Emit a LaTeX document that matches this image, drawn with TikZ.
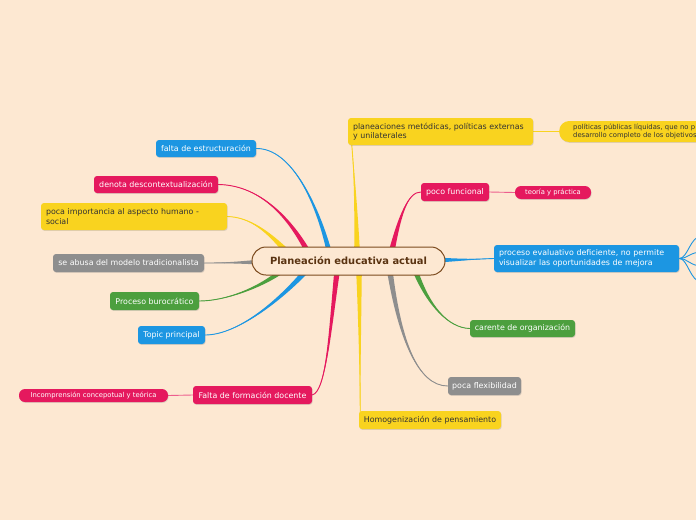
\documentclass[tikz,border=0pt]{standalone}
\usepackage{fontspec}
\setmainfont{DejaVu Sans}
\usetikzlibrary{calc,shadows}
\definecolor{bg}{HTML}{FDE8D2}
\definecolor{mblue}{HTML}{1C96E2}
\definecolor{mpink}{HTML}{E5195E}
\definecolor{myellow}{HTML}{F9D31F}
\definecolor{mgray}{HTML}{8E8E8E}
\definecolor{mgreen}{HTML}{4C9F3E}
\definecolor{brownb}{HTML}{7B4A1E}
\definecolor{brownt}{HTML}{5A3311}
\definecolor{darktext}{HTML}{333333}
\pgfdeclarelayer{back}
\pgfsetlayers{back,main}
\newcommand\branch[6]{%
 \fill[#1] ($(#2)+(#6)$) .. controls ($(#3)+0.4*(#6)$) and (#4) .. (#5) .. controls (#4) and ($(#3)-0.4*(#6)$) .. ($(#2)-(#6)$) -- cycle;
 \draw[#1,line width=0.9pt] (#2) .. controls (#3) and (#4) .. (#5);}
\tikzset{
 topic/.style={rounded corners=3pt, inner sep=0pt, font=\fontsize{7.9}{9.5}\selectfont,
   drop shadow={shadow xshift=0.6pt, shadow yshift=-0.9pt, opacity=0.25}},
 tb/.style={topic, fill=mblue, text=white},
 tp/.style={topic, fill=mpink, text=white},
 ty/.style={topic, fill=myellow, text=darktext},
 tg/.style={topic, fill=mgreen, text=white},
 tgr/.style={topic, fill=mgray, text=white},
 pill/.style={rounded corners=6pt, inner sep=0pt, font=\fontsize{6.8}{8}\selectfont,
   drop shadow={shadow xshift=0.6pt, shadow yshift=-0.9pt, opacity=0.25}},
 sub/.style={line width=0.9pt},
}
\begin{document}
\begin{tikzpicture}[x=1pt,y=-1pt]
\useasboundingbox (0,0) rectangle (696,520);
\clip (0,0) rectangle (696,520);
% center
\node[draw=brownb, line width=1pt, fill=bg, rounded corners=14pt, minimum width=193pt, minimum height=28pt,
  font=\fontsize{9.9}{12}\selectfont\bfseries, text=brownt] (c) at (348.5,261) {Planeación educativa actual};
% left nodes
\node[tb, minimum width=100pt, minimum height=17pt] (falta) at (206,148.5) {falta de estructuración};
\node[tp, minimum width=124pt, minimum height=17pt] (denota) at (156,184.5) {denota descontextualización};
\node[ty, minimum width=186pt, minimum height=27pt, text width=176pt, inner xsep=5pt, align=left] (poca) at (134,216.5) {poca importancia al aspecto humano -\\social};
\node[tgr, minimum width=151pt, minimum height=18pt] (abusa) at (128.5,263) {se abusa del modelo tradicionalista};
\node[tg, minimum width=89pt, minimum height=18pt] (buro) at (154.5,301) {Proceso burocrático};
\node[tb, minimum width=67pt, minimum height=18pt] (topicp) at (171.5,335) {Topic principal};
\node[tp, minimum width=119pt, minimum height=18pt] (formacion) at (252.5,395) {Falta de formación docente};
\node[pill, fill=mpink, text=white, minimum width=149pt, minimum height=13pt] (incomp) at (93.5,395.5) {Incomprensión concepotual y teórica};
% right nodes
\node[ty, minimum width=185pt, minimum height=27pt, text width=175pt, inner xsep=5pt, align=left] (plan) at (440.5,131.5) {planeaciones metódicas, políticas externas\\y unilaterales};
\node[pill, fill=myellow, text=darktext, rounded corners=10pt, anchor=west, minimum height=21pt, text width=150pt, inner xsep=14pt, align=left] (politicas) at (559,131.5) {políticas públicas líquidas, que no p\\desarrollo completo de los objetivos};
\node[tp, minimum width=68pt, minimum height=18pt] (poco) at (455,192) {poco funcional};
\node[pill, fill=mpink, text=white, minimum width=76pt, minimum height=13pt] (teoria) at (553,192.5) {teoría y práctica};
\node[tb, minimum width=185pt, minimum height=27pt, text width=175pt, inner xsep=5pt, align=left] (proceso) at (586.5,258.5) {proceso evaluativo deficiente, no permite\\visualizar las oportunidades de mejora};
\node[tg, minimum width=105pt, minimum height=17pt] (carente) at (522.5,328.5) {carente de organización};
\node[tgr, minimum width=73pt, minimum height=18pt] (flex) at (484.5,386) {poca flexibilidad};
\node[ty, minimum width=142pt, minimum height=18pt] (homog) at (430,420) {Homogenización de pensamiento};
% free ends of the cut-off branches
\coordinate (e1) at (702,236);
\coordinate (e2) at (702,252);
\coordinate (e3) at (702,266);
\coordinate (e4) at (702,282);
\begin{pgfonlayer}{back}
\fill[bg] (0,0) rectangle (696,520);
\coordinate (s1) at ($(c)+(-18.5,-6)$);
\coordinate (s2) at ($(c)+(-40.5,-9)$);
\coordinate (s3) at ($(c)+(-63.5,-11)$);
\coordinate (s4) at ($(c)+(-86.5,1)$);
\coordinate (s5) at ($(c)+(-65.5,9)$);
\coordinate (s6) at ($(c)+(-43.5,11)$);
\coordinate (s7) at ($(c)+(-11.5,11)$);
\coordinate (s8) at ($(c)+(10.5,11)$);
\coordinate (s9) at ($(c)+(8.5,-11)$);
\coordinate (s10) at ($(c)+(43.5,-11)$);
\coordinate (s11) at ($(c)+(91.5,-1)$);
\coordinate (s12) at ($(c)+(66.5,9)$);
\coordinate (s13) at ($(c)+(41.5,11)$);
\branch{mblue}{s1}{318,205}{292,148}{falta.east}{2.8,0.5}
\branch{mpink}{s2}{288,215}{258,185}{denota.east}{2.4,-1.3}
\branch{myellow}{s3}{268,232}{250,217}{poca.east}{2,-2}
\branch{mgray}{s4}{240,262.5}{220,263}{abusa.east}{0,2.6}
\branch{mgreen}{s5}{260,288}{225,301}{buro.east}{1.6,2.1}
\branch{mblue}{s6}{275,305}{235,335}{topicp.east}{2,1.9}
\branch{mpink}{s7}{330,330}{326,392}{formacion.east}{2.8,0}
\branch{myellow}{s8}{360,330}{360,400}{$(homog.north west)+(1.5,3)$}{2.8,0}
\branch{myellow}{s9}{356,200}{353,160}{$(plan.south west)+(4,0)$}{2.8,0}
\branch{mpink}{s10}{400,215}{408,192}{poco.west}{2.8,0.5}
\branch{mblue}{s11}{460,260}{480,259}{proceso.west}{0,2.4}
\branch{mgreen}{s12}{428,305}{448,328}{carente.west}{2.5,-1}
\branch{mgray}{s13}{400,340}{418,386}{flex.west}{2.8,-0.3}
\draw[sub, myellow] (plan.east) -- (politicas.west);
\draw[sub, mpink!70!white] (poco.east) -- (teoria.west);
\draw[sub, mpink!70!white] (formacion.west) -- (incomp.east);
\foreach \e/\y in {e1/236,e2/252,e3/266,e4/282}
  \draw[sub, mblue] (proceso.east) .. controls (688,258.5) and (690,\y) .. (\e);
\end{pgfonlayer}
\end{tikzpicture}
\end{document}
